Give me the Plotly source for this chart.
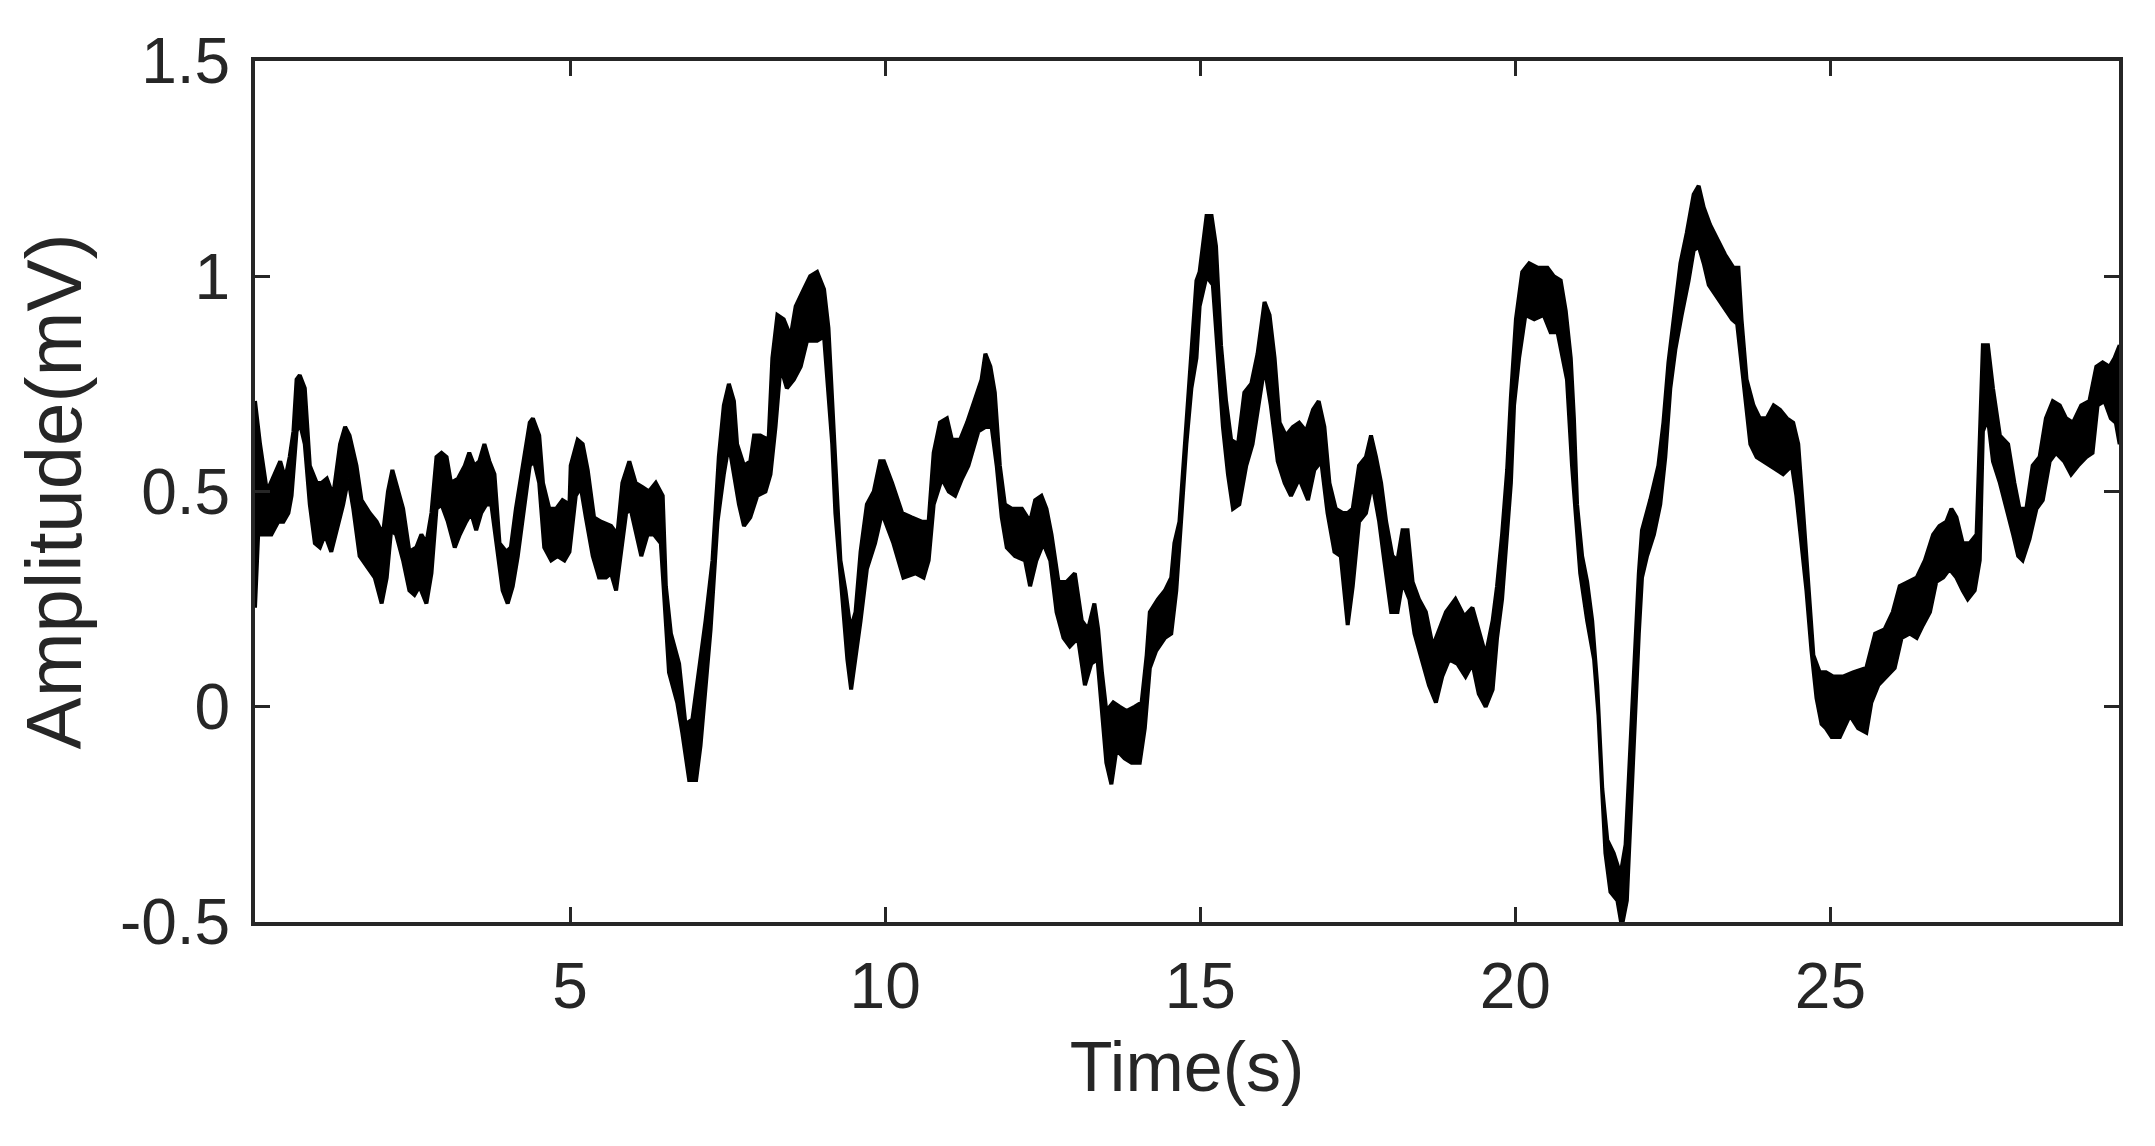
import plotly.graph_objects as go

# Upper envelope of the noisy signal band (time s, amplitude mV)
upper_t = [0.00, 0.08, 0.19, 0.32, 0.40, 0.48, 0.55, 0.61, 0.66, 0.71, 0.79, 0.87, 0.98, 1.06, 1.14, 1.24, 1.35, 1.43, 1.50, 1.61,
           1.69, 1.82, 1.93, 2.03, 2.11, 2.18, 2.27, 2.35, 2.45, 2.56, 2.64, 2.72, 2.80, 2.88, 2.96, 3.04, 3.11, 3.22, 3.33, 3.40,
           3.48, 3.56, 3.64, 3.72, 3.80, 3.88, 3.99, 4.06, 4.14, 4.25, 4.36, 4.41, 4.51, 4.57, 4.67, 4.78, 4.88, 4.99,
           5.01, 5.12, 5.20, 5.28, 5.38, 5.49, 5.65, 5.75, 5.83, 5.94, 6.04, 6.15, 6.25, 6.36, 6.47, 6.52, 6.60, 6.73, 6.83, 6.94,
           7.05, 7.15, 7.26, 7.36, 7.44, 7.52, 7.60, 7.65, 7.76, 7.86, 7.92, 8.02, 8.15, 8.21, 8.29, 8.39, 8.50, 8.58, 8.71, 8.81,
           8.92, 9.03, 9.10, 9.16, 9.21, 9.29, 9.37, 9.45, 9.53, 9.61, 9.71, 9.82, 9.92,
           9.98, 10.11, 10.27, 10.42, 10.58, 10.69, 10.77, 10.87, 10.98, 11.06, 11.19, 11.30, 11.43, 11.53, 11.59, 11.67, 11.74,
           11.82, 11.90, 12.01, 12.17, 12.30, 12.38, 12.48, 12.56, 12.64, 12.75, 12.88, 13.01, 13.12, 13.22, 13.32, 13.38, 13.44,
           13.51, 13.62, 13.72, 13.83, 13.96, 14.07, 14.15, 14.20, 14.33, 14.44, 14.54, 14.59, 14.67, 14.73, 14.81, 14.88, 14.94,
           14.99, 15.10, 15.18, 15.25, 15.33, 15.41, 15.49, 15.60, 15.70, 15.81, 15.91, 16.02, 16.10, 16.18, 16.26, 16.36, 16.47,
           16.57, 16.68, 16.79, 16.88, 16.97, 17.05, 17.15, 17.26, 17.34, 17.42, 17.52, 17.63, 17.71, 17.79, 17.87, 17.95, 18.05,
           18.13, 18.21, 18.29, 18.37, 18.47, 18.58, 18.69, 18.79, 18.90, 19.05, 19.19, 19.32, 19.42, 19.53, 19.64, 19.71, 19.79,
           19.87, 19.93,
           20.01, 20.11, 20.22, 20.35, 20.51, 20.61, 20.72, 20.80, 20.88, 20.93, 20.98, 21.06, 21.14, 21.22, 21.30, 21.38, 21.46,
           21.56, 21.67, 21.75, 21.83, 21.91, 21.96, 22.01, 22.14, 22.27, 22.35, 22.43, 22.51, 22.62, 22.72, 22.83, 22.91, 22.99,
           23.09, 23.20, 23.33, 23.46, 23.54, 23.59, 23.67, 23.78, 23.88, 23.99, 24.10, 24.20, 24.31, 24.41, 24.49, 24.57, 24.62,
           24.68, 24.73, 24.83, 24.93,
           25.05, 25.20, 25.36, 25.57, 25.71, 25.86, 25.99, 26.10, 26.23, 26.37, 26.50, 26.63, 26.73, 26.84, 26.92, 27.00, 27.10,
           27.21, 27.32, 27.37, 27.42, 27.50, 27.58, 27.69, 27.82, 27.92, 28.00, 28.11, 28.21, 28.32, 28.42, 28.53, 28.64, 28.74,
           28.85, 28.98, 29.11, 29.22, 29.32, 29.43, 29.51, 29.59]
upper_v = [0.71, 0.61, 0.50, 0.54, 0.57, 0.53, 0.58, 0.64, 0.76, 0.77, 0.74, 0.56, 0.52, 0.52, 0.53, 0.49, 0.61, 0.65, 0.63, 0.56,
           0.48, 0.45, 0.43, 0.40, 0.50, 0.55, 0.50, 0.46, 0.36, 0.37, 0.40, 0.38, 0.45, 0.58, 0.59, 0.58, 0.52, 0.53, 0.56, 0.59,
           0.56, 0.57, 0.61, 0.57, 0.54, 0.38, 0.36, 0.37, 0.46, 0.56, 0.66, 0.67, 0.63, 0.52, 0.46, 0.46, 0.48, 0.47,
           0.56, 0.62, 0.61, 0.55, 0.44, 0.43, 0.42, 0.40, 0.52, 0.57, 0.52, 0.51, 0.50, 0.52, 0.49, 0.28, 0.17, 0.10, -0.04, -0.03,
           0.09, 0.20, 0.34, 0.58, 0.70, 0.75, 0.71, 0.61, 0.56, 0.57, 0.63, 0.63, 0.62, 0.81, 0.91, 0.90, 0.86, 0.93, 0.97, 1.00,
           1.01, 0.97, 0.88, 0.70, 0.56, 0.34, 0.27, 0.18, 0.22, 0.36, 0.47, 0.50, 0.57,
           0.57, 0.52, 0.45, 0.44, 0.43, 0.43, 0.59, 0.66, 0.67, 0.62, 0.62, 0.66, 0.72, 0.76, 0.82, 0.79, 0.73,
           0.56, 0.47, 0.46, 0.46, 0.43, 0.48, 0.49, 0.46, 0.40, 0.29, 0.29, 0.31, 0.20, 0.18, 0.24, 0.18, 0.08,
           -0.01, 0.01, 0.00, -0.01, 0.00, 0.01, 0.12, 0.22, 0.25, 0.27, 0.30, 0.38, 0.43, 0.56, 0.74, 0.88, 0.99,
           1.01, 1.14, 1.14, 1.07, 0.84, 0.71, 0.62, 0.61, 0.73, 0.75, 0.82, 0.94, 0.91, 0.81, 0.66, 0.63, 0.65,
           0.66, 0.64, 0.69, 0.71, 0.65, 0.52, 0.46, 0.45, 0.45, 0.46, 0.56, 0.58, 0.63, 0.58, 0.52, 0.43, 0.35,
           0.34, 0.41, 0.41, 0.29, 0.25, 0.22, 0.14, 0.18, 0.22, 0.25, 0.21, 0.23, 0.18, 0.12, 0.20, 0.28, 0.40,
           0.55, 0.72,
           0.90, 1.01, 1.03, 1.02, 1.02, 1.00, 0.99, 0.92, 0.81, 0.67, 0.47, 0.35, 0.29, 0.20, 0.05, -0.19, -0.31,
           -0.34, -0.39, -0.32, -0.07, 0.17, 0.31, 0.41, 0.48, 0.56, 0.66, 0.80, 0.90, 1.03, 1.10, 1.19, 1.21, 1.16,
           1.12, 1.09, 1.05, 1.02, 1.02, 0.90, 0.76, 0.70, 0.67, 0.67, 0.70, 0.69, 0.67, 0.66, 0.61, 0.45, 0.34,
           0.22, 0.12, 0.08, 0.08,
           0.07, 0.07, 0.08, 0.09, 0.17, 0.18, 0.22, 0.28, 0.29, 0.30, 0.34, 0.40, 0.42, 0.43, 0.46, 0.44, 0.38,
           0.38, 0.40, 0.61, 0.84, 0.84, 0.74, 0.63, 0.61, 0.52, 0.46, 0.46, 0.56, 0.58, 0.67, 0.71, 0.70, 0.67,
           0.66, 0.70, 0.71, 0.79, 0.80, 0.79, 0.81, 0.84]

# Lower envelope of the noisy signal band
lower_t = [0.00, 0.05, 0.16, 0.26, 0.37, 0.45, 0.53, 0.58, 0.66, 0.71, 0.79, 0.87, 0.95, 1.03, 1.11, 1.21, 1.29, 1.40, 1.48, 1.56,
           1.66, 1.80, 1.90, 2.01, 2.09, 2.16, 2.24, 2.35, 2.45, 2.53, 2.61, 2.72, 2.80, 2.88, 2.96, 3.06, 3.17, 3.25, 3.35, 3.43,
           3.51, 3.59, 3.67, 3.75, 3.83, 3.93, 4.01, 4.09, 4.17, 4.25, 4.36, 4.43, 4.51, 4.59, 4.70, 4.80, 4.91, 4.99,
           5.09, 5.17, 5.25, 5.36, 5.46, 5.57, 5.65, 5.73, 5.81, 5.89, 5.96, 6.04, 6.13, 6.23, 6.33, 6.44, 6.49, 6.57, 6.70, 6.78,
           6.89, 7.00, 7.07, 7.13, 7.23, 7.34, 7.44, 7.52, 7.60, 7.68, 7.76, 7.86, 7.97, 8.10, 8.18, 8.26, 8.34, 8.44, 8.55, 8.66,
           8.76, 8.92, 9.03, 9.10, 9.16, 9.21, 9.31, 9.40, 9.46, 9.53, 9.61, 9.71, 9.84, 9.95,
           10.00, 10.13, 10.29, 10.48, 10.61, 10.69, 10.77, 10.90, 11.01, 11.11, 11.22, 11.32, 11.48, 11.59, 11.69, 11.77, 11.85,
           11.93, 12.06, 12.22, 12.30, 12.40, 12.51, 12.62, 12.72, 12.83, 12.93, 13.06, 13.17, 13.27, 13.37, 13.43, 13.51, 13.59,
           13.67, 13.80, 13.91, 14.04, 14.12, 14.20, 14.30, 14.44, 14.54, 14.62, 14.70, 14.78, 14.86, 14.94,
           14.99, 15.10, 15.20, 15.28, 15.36, 15.44, 15.52, 15.62, 15.73, 15.83, 15.94, 16.02, 16.12, 16.23, 16.34, 16.44, 16.57,
           16.71, 16.81, 16.92, 17.02, 17.13, 17.23, 17.34, 17.42, 17.52, 17.63, 17.73, 17.84, 17.92, 18.03, 18.13, 18.21, 18.32,
           18.40, 18.50, 18.63, 18.74, 18.84, 18.95, 19.08, 19.21, 19.32, 19.42, 19.53, 19.64, 19.71, 19.79, 19.87, 19.93,
           19.98, 20.06, 20.16, 20.30, 20.45, 20.56, 20.67, 20.74, 20.82, 20.90, 20.96, 21.03, 21.14, 21.25, 21.32, 21.38, 21.43,
           21.51, 21.62, 21.69, 21.77, 21.85, 21.91, 21.96, 22.01, 22.09, 22.20, 22.30, 22.38, 22.46, 22.54, 22.64, 22.75, 22.83,
           22.91, 22.99, 23.07, 23.17, 23.30, 23.44, 23.52, 23.57, 23.65, 23.73, 23.83, 23.94, 24.04, 24.15, 24.25, 24.39, 24.46,
           24.54, 24.62, 24.70, 24.78, 24.86, 24.93,
           25.02, 25.15, 25.31, 25.44, 25.57, 25.65, 25.76, 25.89, 26.02, 26.13, 26.26, 26.37, 26.47, 26.58, 26.68, 26.79, 26.89,
           27.00, 27.10, 27.18, 27.29, 27.37, 27.42, 27.50, 27.58, 27.69, 27.79, 27.90, 27.98, 28.05, 28.16, 28.27, 28.37, 28.48,
           28.58, 28.71, 28.82, 28.93, 29.06, 29.16, 29.24, 29.35, 29.45, 29.53, 29.59]
lower_v = [0.23, 0.40, 0.40, 0.40, 0.43, 0.43, 0.45, 0.49, 0.64, 0.66, 0.61, 0.47, 0.38, 0.37, 0.40, 0.36, 0.41, 0.47, 0.53, 0.46,
           0.35, 0.32, 0.30, 0.24, 0.30, 0.41, 0.40, 0.34, 0.27, 0.26, 0.28, 0.24, 0.31, 0.46, 0.47, 0.43, 0.37, 0.40, 0.43, 0.45,
           0.41, 0.45, 0.47, 0.47, 0.38, 0.27, 0.24, 0.28, 0.35, 0.43, 0.56, 0.57, 0.52, 0.37, 0.34, 0.35, 0.34, 0.36,
           0.49, 0.51, 0.44, 0.35, 0.30, 0.30, 0.31, 0.27, 0.36, 0.45, 0.46, 0.41, 0.35, 0.40, 0.40, 0.38, 0.26, 0.08, 0.01, -0.06,
           -0.17, -0.17, -0.09, 0.02, 0.18, 0.43, 0.54, 0.61, 0.54, 0.47, 0.42, 0.44, 0.49, 0.50, 0.54, 0.65, 0.79, 0.74, 0.76, 0.79,
           0.85, 0.85, 0.86, 0.74, 0.61, 0.45, 0.26, 0.11, 0.04, 0.11, 0.20, 0.32, 0.38, 0.45,
           0.43, 0.38, 0.30, 0.31, 0.30, 0.34, 0.47, 0.53, 0.50, 0.49, 0.53, 0.56, 0.64, 0.65, 0.65, 0.56, 0.44,
           0.37, 0.35, 0.34, 0.28, 0.34, 0.38, 0.34, 0.22, 0.16, 0.14, 0.16, 0.05, 0.10, 0.11, 0.00, -0.13, -0.18,
           -0.10, -0.12, -0.13, -0.13, -0.05, 0.09, 0.13, 0.16, 0.17, 0.27, 0.45, 0.61, 0.74, 0.81,
           0.93, 1.00, 0.98, 0.82, 0.65, 0.54, 0.46, 0.47, 0.56, 0.61, 0.71, 0.79, 0.70, 0.57, 0.52, 0.49, 0.53,
           0.48, 0.55, 0.57, 0.45, 0.36, 0.35, 0.19, 0.28, 0.43, 0.45, 0.52, 0.43, 0.34, 0.22, 0.22, 0.29, 0.25,
           0.17, 0.12, 0.05, 0.01, 0.07, 0.11, 0.10, 0.07, 0.10, 0.03, 0.00, 0.04, 0.16, 0.25, 0.40, 0.52,
           0.70, 0.81, 0.91, 0.90, 0.91, 0.87, 0.87, 0.82, 0.76, 0.56, 0.45, 0.31, 0.20, 0.11, -0.02, -0.20, -0.34,
           -0.43, -0.45, -0.51, -0.45, -0.23, 0.00, 0.17, 0.30, 0.35, 0.40, 0.47, 0.58, 0.74, 0.83, 0.91, 0.99, 1.06,
           1.07, 1.03, 0.98, 0.96, 0.93, 0.90, 0.89, 0.81, 0.71, 0.61, 0.58, 0.57, 0.56, 0.55, 0.54, 0.56, 0.49,
           0.38, 0.27, 0.13, 0.02, -0.04, -0.05,
           -0.07, -0.07, -0.02, -0.05, -0.06, 0.01, 0.05, 0.07, 0.09, 0.16, 0.17, 0.16, 0.19, 0.22, 0.29, 0.30, 0.32,
           0.30, 0.27, 0.25, 0.27, 0.34, 0.64, 0.67, 0.57, 0.52, 0.46, 0.40, 0.35, 0.34, 0.39, 0.46, 0.48, 0.57,
           0.59, 0.57, 0.54, 0.56, 0.58, 0.59, 0.70, 0.71, 0.67, 0.66, 0.61]

x_ticks = [5, 10, 15, 20, 25]
x_ticktext = ["5", "10", "15", "20", "25"]
y_ticks = [-0.5, 0, 0.5, 1, 1.5]
y_ticktext = ["-0.5", "0", "0.5", "1", "1.5"]

axis_color = "#262626"
font_family = "Liberation Sans, Arial, sans-serif"

band_x = upper_t + lower_t[::-1]
band_y = upper_v + lower_v[::-1]

fig = go.Figure()
fig.add_trace(go.Scatter(
    x=band_x, y=band_y, mode="lines", fill="toself",
    fillcolor="black", line=dict(color="black", width=4),
    hoverinfo="skip", showlegend=False,
))

common = dict(
    showgrid=False, zeroline=False, showline=True, linewidth=4, linecolor=axis_color,
    mirror="ticks", ticks="inside", ticklen=15, tickwidth=3, tickcolor=axis_color,
    tickfont=dict(size=64, color=axis_color, family=font_family),
    automargin=False,
)

fig.update_xaxes(
    range=[0, 29.58], tickvals=x_ticks, ticktext=x_ticktext,
    title=dict(text="Time(s)", font=dict(size=70, color=axis_color, family=font_family), standoff=22),
    ticklabelstandoff=5,
    **common,
)
fig.update_yaxes(
    range=[-0.5, 1.5], tickvals=y_ticks, ticktext=y_ticktext,
    title=dict(text="Amplitude(mV)", font=dict(size=78, color=axis_color, family=font_family), standoff=14),
    ticklabelstandoff=8,
    **common,
)

# The page body adds an 8px offset, so the figure is sized to fit inside the window.
fig.update_layout(
    width=2139, height=1130,
    margin=dict(l=247, r=28, t=53, b=216),
    plot_bgcolor="white", paper_bgcolor="white",
    showlegend=False,
)

fig.write_html("out.html")
